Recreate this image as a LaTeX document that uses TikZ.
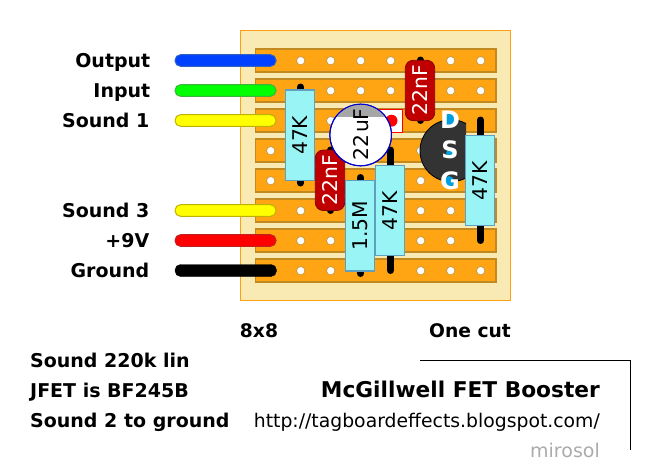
\documentclass[tikz,border=0pt]{standalone}
\usepackage{fontspec}
\setmainfont{DejaVu Sans}
\definecolor{boardfill}{HTML}{F9EAB4}
\definecolor{boardline}{HTML}{FFA010}
\definecolor{stripfill}{HTML}{FFA514}
\definecolor{stripline}{HTML}{C08A20}
\definecolor{holeline}{HTML}{C89A40}
\definecolor{resfill}{HTML}{99F5F5}
\definecolor{resline}{HTML}{5FA0C0}
\definecolor{capred}{HTML}{C00000}
\definecolor{fetgrey}{HTML}{333333}
\definecolor{fetblue}{HTML}{00A0E0}
\newcommand{\partfont}{\fontsize{20.3}{20.3}\selectfont}
\tikzset{
  x=1pt,y=-1pt,
  stripbar/.style={fill=stripfill,draw=stripline,line width=1.2pt},
  holedot/.style={circle,fill=white,draw=holeline,line width=0.8pt,minimum size=8.5pt,inner sep=0pt},
  leadwire/.style={line width=7pt,line cap=round,black},
  resbody/.style={rectangle,fill=resfill,draw=resline,line width=1.2pt,minimum width=29.4pt,inner sep=0pt,text=black},
  capbody/.style={rectangle,rounded corners=8pt,fill=capred,draw=capred!70!black,line width=0.8pt,minimum width=29.4pt,inner sep=0pt,text=white},
  sidelabel/.style={anchor=base east,inner sep=0pt,font=\bfseries\fontsize{19}{19}\selectfont},
  extlead/.style={rounded corners=5.5pt,line width=1pt},
  noteleft/.style={anchor=base west,inner sep=0pt,font=\bfseries\fontsize{19}{19}\selectfont},
  fetletter/.style={inner sep=0pt,font=\bfseries\fontsize{24}{24}\selectfont},
}
\begin{document}
\begin{tikzpicture}
\useasboundingbox (0,0) rectangle (646,471);
\fill[white] (0,0) rectangle (646,471);
\node[draw=boardline,fill=boardfill,line width=1pt,minimum width=270pt,minimum height=270pt,inner sep=0pt] (board) at (375,165) {};
% strips
\foreach \r in {60,90,...,270}
  \draw[stripbar] (255.5,\r-11) rectangle (496,\r+12);
% holes
\foreach \hx/\hy [count=\i] in {
 300/60,330/60,360/60,390/60,450/60,480/60,
 330/90,360/90,390/90,450/90,480/90,
 330/120,
 270/150,420/150,
 270/180,420/180,
 300/210,420/210,450/210,
 300/240,330/240,420/240,450/240,
 300/270,330/270,420/270,450/270,480/270}
  \node[holedot] (h\i) at (\hx+0.7,\hy+0.7) {};
% external wires
\foreach \nm/\wy/\cf/\cl in {wa/60/0040FF/3060C0,wb/90/00FF00/40B040,wc/120/FFFF00/C0B000,wd/210/FFFF00/C0B000,we/240/FF0000/C02020}{
  \definecolor{wf}{HTML}{\cf}\definecolor{wl}{HTML}{\cl}
  \draw[extlead,fill=wf,draw=wl] (175,\wy-5.3) rectangle (276,\wy+6.3);
}
\draw[rounded corners=5.5pt,fill=black,draw=black] (175,264.5) rectangle (276.5,276.5);
% labels
\node[sidelabel] (lo) at (150.5,67.5) {Output};
\node[sidelabel] (li) at (150.5,97.5) {Input};
\node[sidelabel] (ls) at (149.5,127.5) {Sound 1};
\node[sidelabel] (lt) at (149.5,217.5) {Sound 3};
\node[sidelabel] (lp) at (149.5,247.5) {+9V};
\node[sidelabel] (lg) at (149.5,277.5) {Ground};
% red pad
\draw[fill=white,draw=red,line width=1pt] (375,109.5) rectangle (402.7,132);
\fill[red] (391.5,120.7) circle (6);
% leads
\draw[leadwire] (300.5,87) -- (300.5,183);
\draw[leadwire] (330.5,150) -- (330.5,210.5);
\draw[leadwire] (360.5,177.5) -- (360.5,273.5);
\draw[leadwire] (390.5,150) -- (390.5,270.5);
\draw[leadwire] (420.5,60) -- (420.5,120.5);
\draw[leadwire] (480.5,120) -- (480.5,240.5);
% FET
\begin{scope}
\clip (410,110) rectangle (466,190);
\fill[fetgrey,draw=black,line width=0.8pt] (451,150.7) circle (31);
\end{scope}
% parts
\node[resbody,minimum height=90.5pt] (r1) at (300,135.3) {\rotatebox{90}{\partfont 47K}};
\node[capbody,minimum height=60.5pt] (c2) at (330,180.3) {\rotatebox{90}{\partfont 22nF}};
\draw[fill=white,draw=blue!80!black,line width=1pt] (360.7,135) circle (30.8);
\begin{scope}
\clip (325,100) rectangle (396,116.7);
\fill[black!35] (360.7,135) circle (30.3);
\end{scope}
\draw[draw=blue!80!black,line width=1pt] (360.7,135) circle (30.8);
\node[rotate=90,font=\partfont] (c1) at (360.7,134.5) {22\kern2pt uF};
\node[resbody,minimum height=90.5pt] (r2) at (360,225.7) {\rotatebox{90}{\partfont 1.5M}};
\node[resbody,minimum height=90.5pt] (r3) at (390,210.5) {\rotatebox{90}{\partfont 47K}};
\node[resbody,minimum height=90.5pt] (r4) at (480,180.5) {\rotatebox{90}{\partfont 47K}};
\node[capbody,minimum height=60.5pt] (c3) at (420,90.5) {\rotatebox{90}{\partfont 22nF}};
% FET letters
\fill[fetblue] (450,120) ellipse (5 and 7);
\fill[fetblue] (451,153) ellipse (5 and 4);
\fill[fetblue] (449,182) ellipse (5 and 6);
\node[fetletter,text=white] (fd) at (450,120) {D};
\node[fetletter,text=white] (fs) at (450,150) {S};
\node[fetletter,text=white] (fg) at (450,181) {G};
% captions
\node[anchor=base,inner sep=0pt,font=\bfseries\fontsize{18.7}{18.7}\selectfont] (n8) at (259,337.5) {8x8};
\node[anchor=base,inner sep=0pt,font=\bfseries\fontsize{18.7}{18.7}\selectfont] (nc) at (470,337.5) {One cut};
\node[noteleft] (a1) at (30,367.5) {Sound 220k lin};
\node[noteleft] (a2) at (30,397.5) {JFET is BF245B};
\node[noteleft] (a3) at (30,427.5) {Sound 2 to ground};
\node[anchor=base east,inner sep=0pt,font=\bfseries\fontsize{21.7}{21.7}\selectfont] (tt) at (600,397.5) {McGillwell FET Booster};
\node[anchor=base east,inner sep=0pt,font=\fontsize{18.8}{18.8}\selectfont] (url) at (600,427.5) {http://tagboardeffects.blogspot.com/};
\node[anchor=base east,inner sep=0pt,text=black!33,font=\fontsize{19}{19}\selectfont] (au) at (600,457.5) {mirosol};
\coordinate (b1) at (420,360.5);
\coordinate (b2) at (630.5,360.5);
\coordinate (b3) at (630.5,450);
\draw[black,line width=1pt] (b1) -- (b2) -- (b3);
\end{tikzpicture}
\end{document}
